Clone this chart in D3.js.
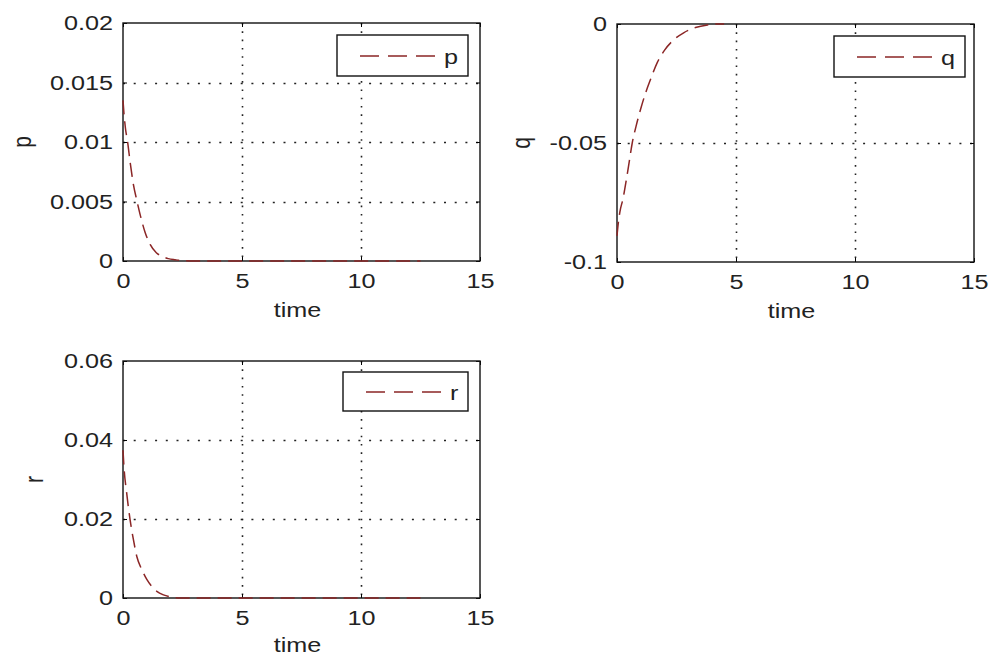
<!DOCTYPE html>
<html><head><meta charset="utf-8">
<script src="https://cdn.jsdelivr.net/npm/d3@7"></script>
<style>body{margin:0;background:#fff}svg{display:block}</style>
</head><body>
<svg id="chart" width="991" height="657"></svg>
<script>
// ---- data ----
const xTicks = [0, 5, 10, 15];
const xTickLabels = ["0", "5", "10", "15"];
const xLabel = "time";

const pTime   = [0, 0.04, 0.1, 0.2, 0.3, 0.44, 0.58, 0.72, 0.93, 1.14, 1.4, 1.64, 1.9, 2.2, 2.5, 3, 4, 5, 6, 7, 8, 9, 10, 11, 12, 12.5];
const pValues = [0.0135, 0.0124, 0.0112, 0.0099, 0.0083, 0.0064, 0.0051, 0.0039, 0.0024, 0.0014, 0.0007, 0.0004, 0.0002, 0.0001, 0.00003, 0, 0, 0, 0, 0, 0, 0, 0, 0, 0, 0];
const pTicks = [0, 0.005, 0.01, 0.015, 0.02];
const pTickLabels = ["0", "0.005", "0.01", "0.015", "0.02"];

const qTime   = [0, 0.05, 0.12, 0.25, 0.4, 0.52, 0.64, 0.8, 1.0, 1.2, 1.4, 1.7, 2.0, 2.4, 2.8, 3.3, 3.8, 4.2, 4.5];
const qValues = [-0.089, -0.084, -0.079, -0.0735, -0.065, -0.0575, -0.050, -0.043, -0.0355, -0.029, -0.0235, -0.016, -0.011, -0.0065, -0.0037, -0.0015, -0.0004, 0, 0];
const qTicks = [-0.1, -0.05, 0];
const qTickLabels = ["-0.1", "-0.05", "0"];

const rTime   = [0, 0.05, 0.15, 0.3, 0.44, 0.58, 0.79, 1.0, 1.2, 1.42, 1.7, 2.0, 2.4, 3, 4, 5, 6, 7, 8, 9, 10, 11, 12, 12.5];
const rValues = [0.0374, 0.0324, 0.0268, 0.0197, 0.0147, 0.0105, 0.0072, 0.0047, 0.003, 0.0017, 0.0008, 0.0003, 0, 0, 0, 0, 0, 0, 0, 0, 0, 0, 0, 0];
const rTicks = [0, 0.02, 0.04, 0.06];
const rTickLabels = ["0", "0.02", "0.04", "0.06"];

// ---- layout ----
const FONT = "'Liberation Sans', Arial, Helvetica, sans-serif";
const FS = 21, SX = 1.2;
const lineColor = "#8b2626";
const textColor = "#222";

const panels = [
  {name: "p", time: pTime, values: pValues, ticks: pTicks, labels: pTickLabels, domain: [0, 0.02],
   box: {x0: 123, x1: 480, y0: 23, y1: 261}, legend: {x: 337, y: 35, w: 131, h: 41}, ylabX: 31, xlabDy: 56},
  {name: "q", time: qTime, values: qValues, ticks: qTicks, labels: qTickLabels, domain: [-0.1, 0],
   box: {x0: 617, x1: 974, y0: 24, y1: 262}, legend: {x: 834, y: 36, w: 131, h: 41}, ylabX: 530, xlabDy: 56},
  {name: "r", time: rTime, values: rValues, ticks: rTicks, labels: rTickLabels, domain: [0, 0.06],
   box: {x0: 123, x1: 480, y0: 361, y1: 598}, legend: {x: 343, y: 372, w: 125, h: 39}, ylabX: 43, xlabDy: 54}
];

const svg = d3.select("#chart");
svg.append("rect").attr("width", 991).attr("height", 657).attr("fill", "#fff");

panels.forEach(P => {
  const b = P.box;
  const x = d3.scaleLinear().domain([0, 15]).range([b.x0, b.x1]);
  const y = d3.scaleLinear().domain(P.domain).range([b.y1, b.y0]);
  const g = svg.append("g");

  // grid
  const inner = xTicks.filter(t => t > 0 && t < 15);
  g.selectAll(".vg").data(inner).enter().append("line")
    .attr("x1", d => Math.round(x(d)) + 0.5).attr("x2", d => Math.round(x(d)) + 0.5)
    .attr("y1", b.y0).attr("y2", b.y1)
    .attr("stroke", "#222").attr("stroke-width", 1.6).attr("stroke-dasharray", "1.6,6.7");
  const yin = P.ticks.filter(t => t > P.domain[0] && t < P.domain[1]);
  g.selectAll(".hg").data(yin).enter().append("line")
    .attr("y1", d => Math.round(y(d)) + 0.5).attr("y2", d => Math.round(y(d)) + 0.5)
    .attr("x1", b.x0).attr("x2", b.x1)
    .attr("stroke", "#222").attr("stroke-width", 1.6).attr("stroke-dasharray", "2,8.7");

  // axes
  const ax = g.append("g").attr("transform", `translate(0,${b.y1})`)
    .call(d3.axisBottom(x).tickValues(xTicks).tickFormat((d, i) => xTickLabels[i]).tickSizeInner(-4).tickSizeOuter(0));
  ax.select(".domain").remove();
  ax.selectAll("text").attr("y", 27).attr("dy", 0).attr("transform", `scale(${SX},1)`)
    .attr("font-family", FONT).attr("font-size", FS).attr("fill", textColor);

  const ay = g.append("g").attr("transform", `translate(${b.x0},0)`)
    .call(d3.axisLeft(y).tickValues(P.ticks).tickFormat((d, i) => P.labels[i]).tickSizeInner(-4).tickSizeOuter(0));
  ay.select(".domain").remove();
  ay.selectAll("text").attr("x", -8.3).attr("transform", `scale(${SX},1)`)
    .attr("font-family", FONT).attr("font-size", FS).attr("fill", textColor);

  const at = g.append("g").attr("transform", `translate(0,${b.y0})`)
    .call(d3.axisTop(x).tickValues(xTicks).tickFormat("").tickSizeInner(-4).tickSizeOuter(0));
  at.select(".domain").remove();
  const ar = g.append("g").attr("transform", `translate(${b.x1},0)`)
    .call(d3.axisRight(y).tickValues(P.ticks).tickFormat("").tickSizeInner(-4).tickSizeOuter(0));
  ar.select(".domain").remove();

  g.append("rect").attr("x", b.x0).attr("y", b.y0).attr("width", b.x1 - b.x0).attr("height", b.y1 - b.y0)
    .attr("fill", "none").attr("stroke", "#111").attr("stroke-width", 1.4);

  // labels
  g.append("text").attr("transform", `translate(${(b.x0 + b.x1) / 2 - 4},${b.y1 + P.xlabDy}) scale(${SX},1)`)
    .attr("text-anchor", "middle").attr("font-family", FONT).attr("font-size", FS).attr("fill", textColor)
    .text(xLabel);
  g.append("text").attr("transform", `translate(${P.ylabX},${(b.y0 + b.y1) / 2}) scale(${SX},1) rotate(-90)`)
    .attr("text-anchor", "middle").attr("font-family", FONT).attr("font-size", FS).attr("fill", textColor)
    .text(P.name);

  // curve
  const pts = P.time.map((t, i) => [t, P.values[i]]);
  g.append("path").datum(pts)
    .attr("d", d3.line().x(d => x(d[0])).y(d => y(d[1])).curve(d3.curveMonotoneX))
    .attr("fill", "none").attr("stroke", lineColor).attr("stroke-width", 1.5)
    .attr("stroke-dasharray", "14,7");

  // legend
  const L = P.legend;
  const lg = g.append("g").attr("transform", `translate(${L.x},${L.y})`);
  lg.append("rect").attr("width", L.w).attr("height", L.h).attr("fill", "#fff")
    .attr("stroke", "#111").attr("stroke-width", 1.4);
  const ly = Math.round(L.h / 2);
  lg.append("line").attr("x1", 23).attr("x2", 98).attr("y1", ly).attr("y2", ly)
    .attr("stroke", lineColor).attr("stroke-width", 1.4).attr("stroke-dasharray", "19,9");
  lg.append("text").attr("transform", `translate(107,${ly + 8}) scale(${SX},1)`)
    .attr("font-family", FONT).attr("font-size", FS).attr("fill", textColor).text(P.name);
});
</script>
</body></html>
